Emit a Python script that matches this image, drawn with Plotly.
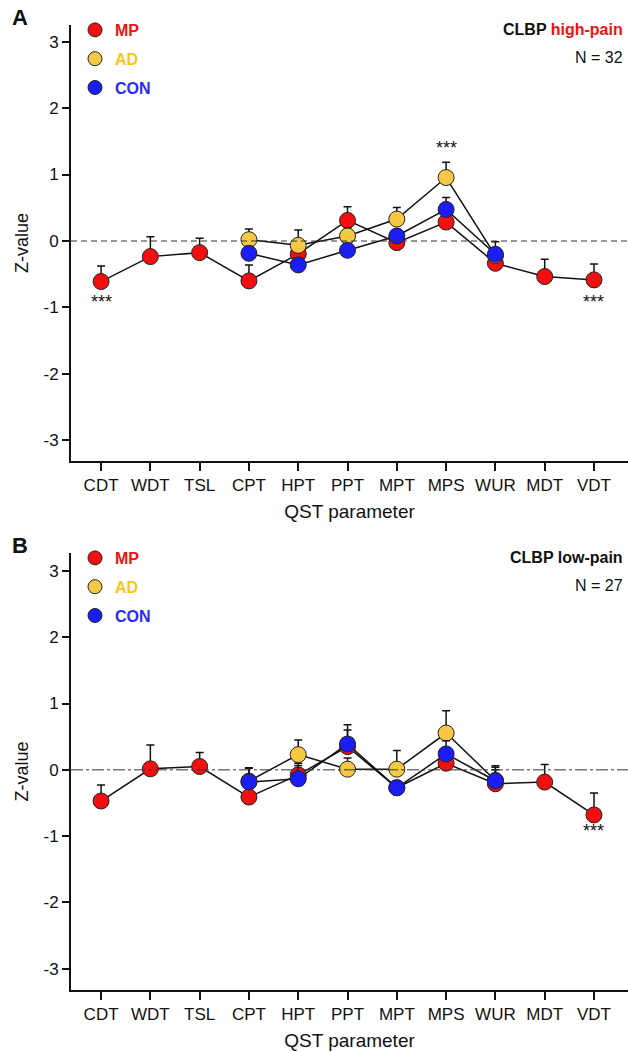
import plotly.graph_objects as go

params = ["CDT", "WDT", "TSL", "CPT", "HPT", "PPT", "MPT", "MPS", "WUR", "MDT", "VDT"]
sub_params = ["CPT", "HPT", "PPT", "MPT", "MPS", "WUR"]

# Panel A: CLBP high-pain (N = 32)
a_mp = [-0.61, -0.235, -0.175, -0.60, -0.195, 0.31, -0.025, 0.285, -0.335, -0.535, -0.585]
a_mp_err = [0.235, 0.30, 0.215, 0.24, 0.12, 0.205, 0.10, 0.12, 0.12, 0.26, 0.24]
a_ad = [0.02, -0.065, 0.075, 0.33, 0.955, -0.22]
a_ad_err = [0.16, 0.23, 0.12, 0.175, 0.23, 0.12]
a_con = [-0.185, -0.36, -0.14, 0.075, 0.475, -0.20]
a_con_err = [0.10, 0.10, 0.10, 0.10, 0.18, 0.19]

# Panel B: CLBP low-pain (N = 27)
b_mp = [-0.47, 0.015, 0.05, -0.41, -0.075, 0.35, -0.27, 0.10, -0.21, -0.185, -0.68]
b_mp_err = [0.24, 0.36, 0.21, 0.20, 0.175, 0.25, 0.10, 0.14, 0.21, 0.265, 0.33]
b_ad = [-0.17, 0.23, 0.01, 0.01, 0.555, -0.16]
b_ad_err = [0.20, 0.22, 0.17, 0.28, 0.335, 0.20]
b_con = [-0.185, -0.135, 0.39, -0.27, 0.24, -0.165]
b_con_err = [0.21, 0.20, 0.29, 0.10, 0.20, 0.225]

sig_a = {"CDT": "below", "MPS": "above", "VDT": "below"}
sig_b = {"VDT": "below"}

RED = "#f01010"
YEL = "#f7c843"
BLU = "#1c1cf5"
RED_T = "#ee1111"
YEL_T = "#f5c518"
BLU_T = "#2a2af0"

FONT = "Liberation Sans, Arial, sans-serif"

idx = {p: i for i, p in enumerate(params)}

fig = go.Figure()

def add_panel(mp, mp_err, ad, ad_err, con, con_err, xa, ya, legend_name):
    series = [
        (params, mp, mp_err, RED),
        (sub_params, ad, ad_err, YEL),
        (sub_params, con, con_err, BLU),
    ]
    for cats, vals, errs, col in series:
        fig.add_trace(go.Scatter(
            x=[idx[c] for c in cats], y=vals,
            mode="lines+markers",
            line=dict(color="#111111", width=1.5),
            marker=dict(color=col, size=16, line=dict(color="#222222", width=1)),
            error_y=dict(type="data", symmetric=False, array=errs,
                         arrayminus=[0] * len(errs), color="#111111",
                         thickness=1.5, width=4),
            xaxis=xa, yaxis=ya, showlegend=False, hoverinfo="skip",
        ))
    for name, col, tcol in [("MP", RED, RED_T), ("AD", YEL, YEL_T), ("CON", BLU, BLU_T)]:
        fig.add_trace(go.Scatter(
            x=[None], y=[None], mode="markers",
            marker=dict(color=col, size=14, line=dict(color="#222222", width=1)),
            name=f"<span style='color:{tcol}'><b>{name}</b></span>",
            legendgroup=legend_name + name, legend=legend_name,
            xaxis=xa, yaxis=ya, showlegend=True,
        ))

add_panel(a_mp, a_mp_err, a_ad, a_ad_err, a_con, a_con_err, "x", "y", "legend")
add_panel(b_mp, b_mp_err, b_ad, b_ad_err, b_con, b_con_err, "x2", "y2", "legend2")

W, H = 628, 1052
xdom = [71 / W, 1.0]
ydomA = [1 - 461 / H, 1 - 25 / H]
ydomB = [1 - 990 / H, 1 - 553 / H]

xcommon = dict(
    tickmode="array", tickvals=list(range(len(params))), ticktext=params,
    range=[-0.61, 10.69], showgrid=False, zeroline=False,
    showline=True, linecolor="#111111", linewidth=2,
    ticks="outside", ticklen=8, tickwidth=1.5, tickcolor="#111111",
    tickfont=dict(family=FONT, size=17, color="#111111"),
    title=dict(text="QST parameter", font=dict(family=FONT, size=19, color="#111111"), standoff=10),
    domain=xdom,
)
ycommon = dict(
    tickmode="array", tickvals=[-3, -2, -1, 0, 1, 2, 3],
    ticktext=["-3", "-2", "-1", "0", "1", "2", "3"],
    showgrid=False, zeroline=False,
    showline=True, linecolor="#111111", linewidth=2,
    ticks="outside", ticklen=7, tickwidth=1.5, tickcolor="#111111",
    tickfont=dict(family=FONT, size=17, color="#111111"),
    title=dict(text="Z-value", font=dict(family=FONT, size=18, color="#111111"), standoff=10),
)

fig.update_layout(
    width=W, height=H,
    margin=dict(l=0, r=0, t=0, b=0),
    paper_bgcolor="white", plot_bgcolor="white",
    font=dict(family=FONT, color="#111111"),
    xaxis=dict(**xcommon, anchor="y"),
    yaxis=dict(**ycommon, range=[-3.31, 3.25], domain=ydomA, anchor="x"),
    xaxis2=dict(**xcommon, anchor="y2"),
    yaxis2=dict(**ycommon, range=[-3.32, 3.27], domain=ydomB, anchor="x2"),
    legend=dict(x=75 / W, y=1 - 13 / H, xanchor="left", yanchor="top",
                bgcolor="rgba(0,0,0,0)", font=dict(family=FONT, size=16),
                tracegroupgap=5, itemclick=False),
    legend2=dict(x=75 / W, y=1 - 541 / H, xanchor="left", yanchor="top",
                 bgcolor="rgba(0,0,0,0)", font=dict(family=FONT, size=16),
                 tracegroupgap=5, itemclick=False),
    showlegend=True,
)

# zero reference lines
fig.add_shape(type="line", xref="x domain", yref="y", x0=0, x1=1, y0=0, y1=0,
              line=dict(color="#333333", width=1, dash="6px,4px"))
fig.add_shape(type="line", xref="x2 domain", yref="y2", x0=0, x1=1, y0=0, y1=0,
              line=dict(color="#333333", width=1, dash="12px,3px,3px,3px"))

# significance markers
def add_sig(sig, xr, yr):
    for p, where in sig.items():
        i = idx[p]
        fig.add_annotation(x=i, y=(-0.92 if where == "below" else 1.40),
                           xref=xr, yref=yr, text="***", showarrow=False,
                           font=dict(family=FONT, size=18, color="#111111"))

add_sig(sig_a, "x", "y")
add_sig(sig_b, "x2", "y2")

# panel letters and titles
for letter, ytop in [("A", 18), ("B", 545)]:
    fig.add_annotation(x=10 / W, y=1 - ytop / H, xref="paper", yref="paper",
                       text=f"<b>{letter}</b>", showarrow=False, xanchor="left",
                       yanchor="middle", font=dict(family=FONT, size=22, color="#111111"))

titles = [
    ("<b>CLBP <span style='color:#ee1111'>high-pain</span></b>", "N = 32", 29, 57),
    ("<b>CLBP low-pain</b>", "N = 27", 557, 585),
]
for t1, t2, y1, y2 in titles:
    fig.add_annotation(x=1 - 3 / W, y=1 - y1 / H, xref="paper", yref="paper",
                       text=t1, showarrow=False, xanchor="right", yanchor="middle",
                       font=dict(family=FONT, size=16, color="#111111"))
    fig.add_annotation(x=1 - 3 / W, y=1 - y2 / H, xref="paper", yref="paper",
                       text=t2, showarrow=False, xanchor="right", yanchor="middle",
                       font=dict(family=FONT, size=16, color="#111111"))

fig.write_html("out.html", config={"displayModeBar": False},
               post_script="document.body.style.margin='0px';document.body.style.padding='0px';")
